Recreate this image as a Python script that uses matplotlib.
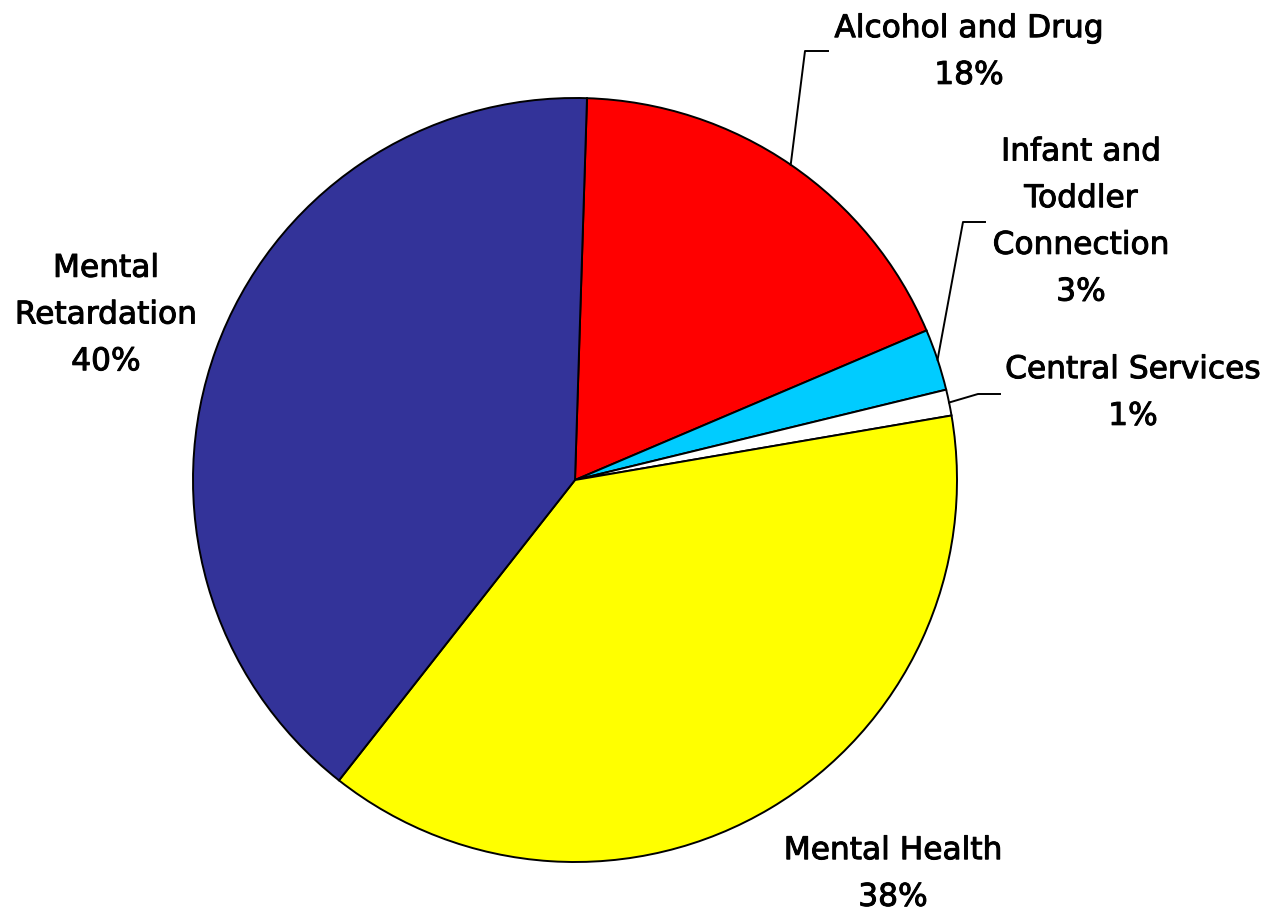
import numpy as np
import matplotlib
matplotlib.use("Agg")
import matplotlib.pyplot as plt
import matplotlib.patheffects as pe

# slice data, clockwise from the top
labels = ["Alcohol and Drug", "Infant and\nToddler\nConnection", "Central Services",
          "Mental Health", "Mental\nRetardation"]
values = [18.1, 2.6, 1.1, 38.3, 39.9]
colors = ["#FF0000", "#00CCFF", "#FFFFFF", "#FFFF00", "#333399"]

# label placement in pixel coords (x, y from top), and leader elbows (None = no leader)
label_pos = [(969, 52), (1081, 222), (1133, 393), (893, 874), (106, 315)]
elbows = [[(805, 51), (828, 51)],
          [(963, 222), (985, 222)],
          [(978, 394), (1000, 394)],
          None, None]

W, H = 1283, 913
cx, cy, r = 575, H - 480, 382

fig = plt.figure(figsize=(W / 100, H / 100), dpi=100)
ax = fig.add_axes([0, 0, 1, 1])

wedges, _ = ax.pie(values, colors=colors, startangle=88.2, counterclock=False,
                   center=(cx, cy), radius=r,
                   wedgeprops=dict(edgecolor="black", linewidth=1.4))

total = sum(values)
for w, lab, v, pos, elb in zip(wedges, labels, values, label_pos, elbows):
    txt = "%s\n%d%%" % (lab, round(v / total * 100))
    ax.text(pos[0], H - pos[1], txt, ha="center", va="center", fontsize=22.5,
            family="DejaVu Sans", linespacing=1.77, color="black",
            path_effects=[pe.withStroke(linewidth=0.7, foreground="black")])
    if elb is not None:
        ang = np.deg2rad((w.theta1 + w.theta2) / 2)
        xs = [cx + r * np.cos(ang)] + [p[0] for p in elb]
        ys = [cy + r * np.sin(ang)] + [H - p[1] for p in elb]
        ax.plot(xs, ys, color="black", linewidth=1.4)

ax.set_xlim(0, W)
ax.set_ylim(0, H)
ax.set_aspect("equal")
ax.axis("off")

fig.savefig("out.png", dpi=100)
